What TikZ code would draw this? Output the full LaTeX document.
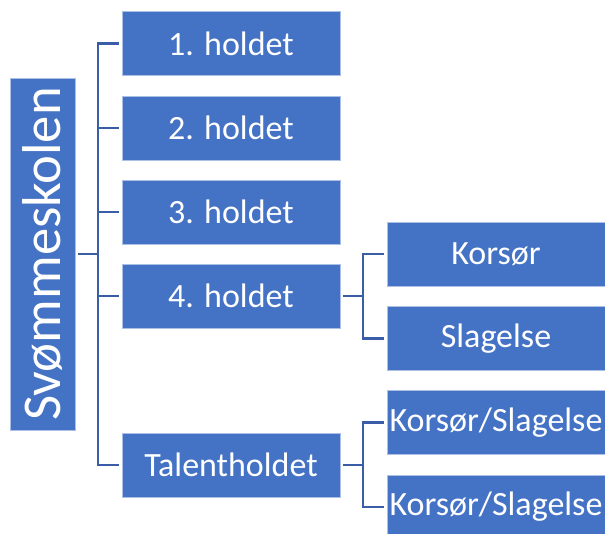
\documentclass[tikz,border=0pt]{standalone}
\usepackage{fontspec}
\setmainfont{Carlito}
\definecolor{boxblue}{HTML}{4472C4}
\definecolor{lineblue}{HTML}{3A5DA8}
\tikzset{
  box/.style={fill=boxblue,draw=white!55!boxblue,line width=0.4pt,text=white,
    minimum width=163.5pt,minimum height=48pt,inner sep=0pt,font=\fontsize{25.5}{28}\selectfont},
  rootbox/.style={box,rotate=90,minimum width=264pt,font=\fontsize{41}{46}\selectfont},
  link/.style={draw=lineblue,line width=1.8pt,shorten <=2pt}
}
\begin{document}
\begin{tikzpicture}[line cap=butt,line join=miter,x=0.75pt,y=-0.75pt]
      \useasboundingbox (0,0) rectangle (605,533);
      % boxes
      \node[rootbox,minimum height=48.75pt] (root) at (42.5,254) {Svømmeskolen};
      \node[box] (h1) at (231,43.5) {1. holdet};
      \node[box] (h2) at (231,128) {2. holdet};
      \node[box] (h3) at (231,212) {3. holdet};
      \node[box] (h4) at (231,296) {4. holdet};
      \node[box] (talent) at (231,465) {Talentholdet};
      \node[box] (kor) at (496,254) {Korsør};
      \node[box] (sla) at (496,338.5) {Slagelse};
      \node[box] (ks1) at (496,422.5) {Korsør/Slagelse};
      \node[box] (ks2) at (496,507) {Korsør/Slagelse};
      % connectors
      \coordinate (spine) at (98,254);
      \coordinate (spine4) at (363,296);
      \coordinate (spinet) at (363,465);
      \draw[link] (root.south) -- (spine);
      \foreach \b in {h1,h2,h3,h4,talent}
      \draw[link,shorten <=0pt,shorten >=2pt] (spine) |- (\b.west);
      \foreach \b in {kor,sla}
      \draw[link,shorten >=2pt] (h4.east) -- (spine4) |- (\b.west);
      \foreach \b in {ks1,ks2}
      \draw[link,shorten >=2pt] (talent.east) -- (spinet) |- (\b.west);
\end{tikzpicture}
\end{document}
